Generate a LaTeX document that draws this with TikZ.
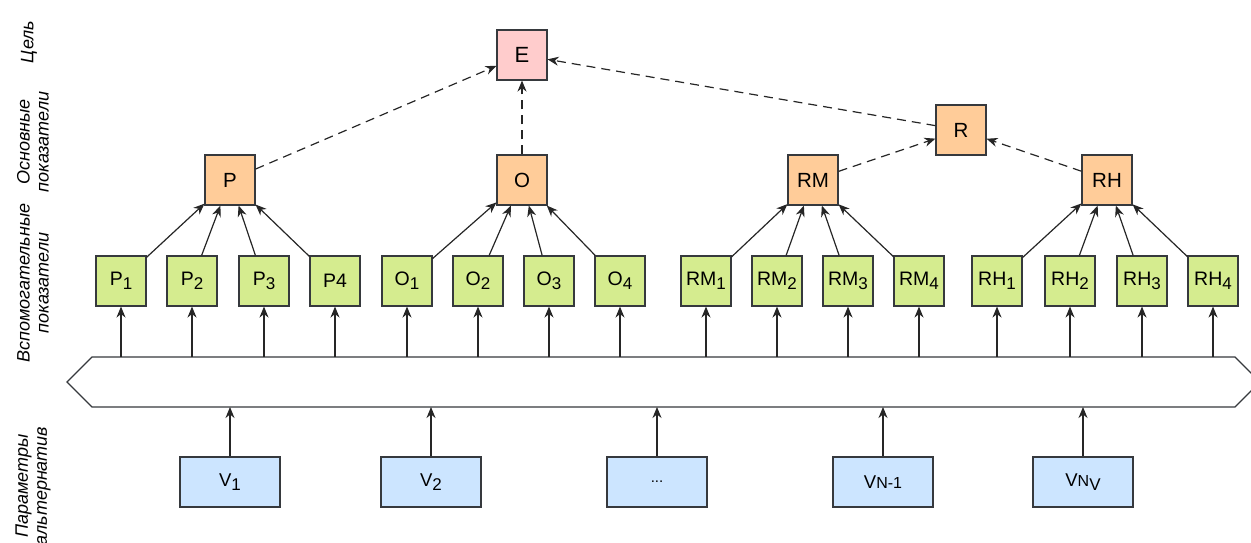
\documentclass[tikz,border=0pt]{standalone}
\usepackage{fontspec}
\setmainfont{Liberation Sans}
\usetikzlibrary{arrows.meta}

\definecolor{edgecol}{HTML}{36393D}
\definecolor{linecol}{HTML}{262626}
\definecolor{greenfill}{HTML}{D5EC8F}
\definecolor{orangefill}{HTML}{FFCC99}
\definecolor{pinkfill}{HTML}{FFCCCC}
\definecolor{bluefill}{HTML}{CCE5FF}

% lowered index in box labels
\newcommand\lowidx[1]{\raisebox{-4bp}{\fontsize{17bp}{17bp}\selectfont #1}}
\newcommand\smallpart[1]{{\fontsize{16bp}{16bp}\selectfont #1}}

\tikzset{
  box/.style={draw=edgecol, line width=1.1bp, minimum width=50bp, minimum height=50bp,
    inner sep=0pt, text=black},
  greenbox/.style={box, fill=greenfill, font=\fontsize{19.5bp}{21bp}\selectfont},
  orangebox/.style={box, fill=orangefill, font=\fontsize{20.5bp}{22bp}\selectfont},
  pinkbox/.style={box, fill=pinkfill, font=\fontsize{22bp}{24bp}\selectfont},
  bluebox/.style={box, fill=bluefill, minimum width=100bp, font=\fontsize{18.5bp}{20bp}\selectfont},
  link/.style={draw=linecol, line width=1.2bp, -{Stealth[length=11bp, width=9bp, inset=3.5bp]}},
  dlink/.style={link, dash pattern=on 9bp off 6bp},
  rowlabel/.style={rotate=90, align=center, inner sep=0pt,
    font=\itshape\fontsize{18bp}{19bp}\selectfont},
}

\begin{document}
\begin{tikzpicture}[x=1bp, y=-1bp]
\useasboundingbox (0,0) rectangle (1251,543);

% row labels
\node[rowlabel] (lgoal) at (29,42) {Цель};
\node[rowlabel] (lmain) at (33,142) {Основные\\показатели};
\node[rowlabel] (laux) at (33,283) {Вспомогательные\\показатели};
\node[rowlabel] (lpar) at (33,486) {Параметры\\альтернатив};

% goal and main indicators
\node[pinkbox] (E) at (522,55) {E};
\node[orangebox] (R) at (961,130) {R};
\node[orangebox] (P) at (230,180) {P};
\node[orangebox] (O) at (522,180) {O};
\node[orangebox] (RM) at (813,180) {RM};
\node[orangebox] (RH) at (1107,180) {RH};

% auxiliary indicators
\node[greenbox] (P1) at (121,281) {P\lowidx{1}};
\node[greenbox] (P2) at (192,281) {P\lowidx{2}};
\node[greenbox] (P3) at (264,281) {P\lowidx{3}};
\node[greenbox] (P4) at (335,281) {P4};
\node[greenbox] (O1) at (407,281) {O\lowidx{1}};
\node[greenbox] (O2) at (478,281) {O\lowidx{2}};
\node[greenbox] (O3) at (549,281) {O\lowidx{3}};
\node[greenbox] (O4) at (620,281) {O\lowidx{4}};
\node[greenbox] (RM1) at (706,281) {RM\lowidx{1}};
\node[greenbox] (RM2) at (777,281) {RM\lowidx{2}};
\node[greenbox] (RM3) at (848,281) {RM\lowidx{3}};
\node[greenbox] (RM4) at (919,281) {RM\lowidx{4}};
\node[greenbox] (RH1) at (997,281) {RH\lowidx{1}};
\node[greenbox] (RH2) at (1070,281) {RH\lowidx{2}};
\node[greenbox] (RH3) at (1142,281) {RH\lowidx{3}};
\node[greenbox] (RH4) at (1213,281) {RH\lowidx{4}};

% alternative parameters
\node[bluebox] (V1) at (230,482) {V\lowidx{1}};
\node[bluebox] (V2) at (431,482) {V\lowidx{2}};
\node[bluebox] (Vdots) at (657,482) {\fontsize{15bp}{16bp}\selectfont ...};
\node[bluebox] (Vn1) at (883,482) {V\smallpart{N-1}};
\node[bluebox] (Vnv) at (1083,482) {V\smallpart{N}\lowidx{V}};

% collecting banner between parameters and indicators
\coordinate (bantop) at (0,357);
\coordinate (banbot) at (0,407);
\draw[draw=edgecol, line width=1.1bp, fill=white]
  (92,357) -- (1235,357) -- (1260,382) -- (1235,407) -- (92,407) -- (67,382) -- cycle;

% parameters feed the banner
\foreach \v in {V1,V2,Vdots,Vn1,Vnv}
  \draw[link] (\v) -- (\v |- banbot);

% banner feeds every auxiliary indicator
\foreach \g in {P1,P2,P3,P4,O1,O2,O3,O4,RM1,RM2,RM3,RM4,RH1,RH2,RH3,RH4}
  \draw[link] (\g |- bantop) -- (\g);

% auxiliary to main indicators
\foreach \g in {P1,P2,P3,P4} \draw[link] (\g) -- (P);
\foreach \g in {O1,O2,O3,O4} \draw[link] (\g) -- (O);
\foreach \g in {RM1,RM2,RM3,RM4} \draw[link] (\g) -- (RM);
\foreach \g in {RH1,RH2,RH3,RH4} \draw[link] (\g) -- (RH);

% main indicators to the goal
\draw[dlink] (P) -- (E);
\draw[dlink] (O) -- (E);
\draw[dlink] (R) -- (E);
\draw[dlink] (RM) -- (R);
\draw[dlink] (RH) -- (R);
\end{tikzpicture}
\end{document}
